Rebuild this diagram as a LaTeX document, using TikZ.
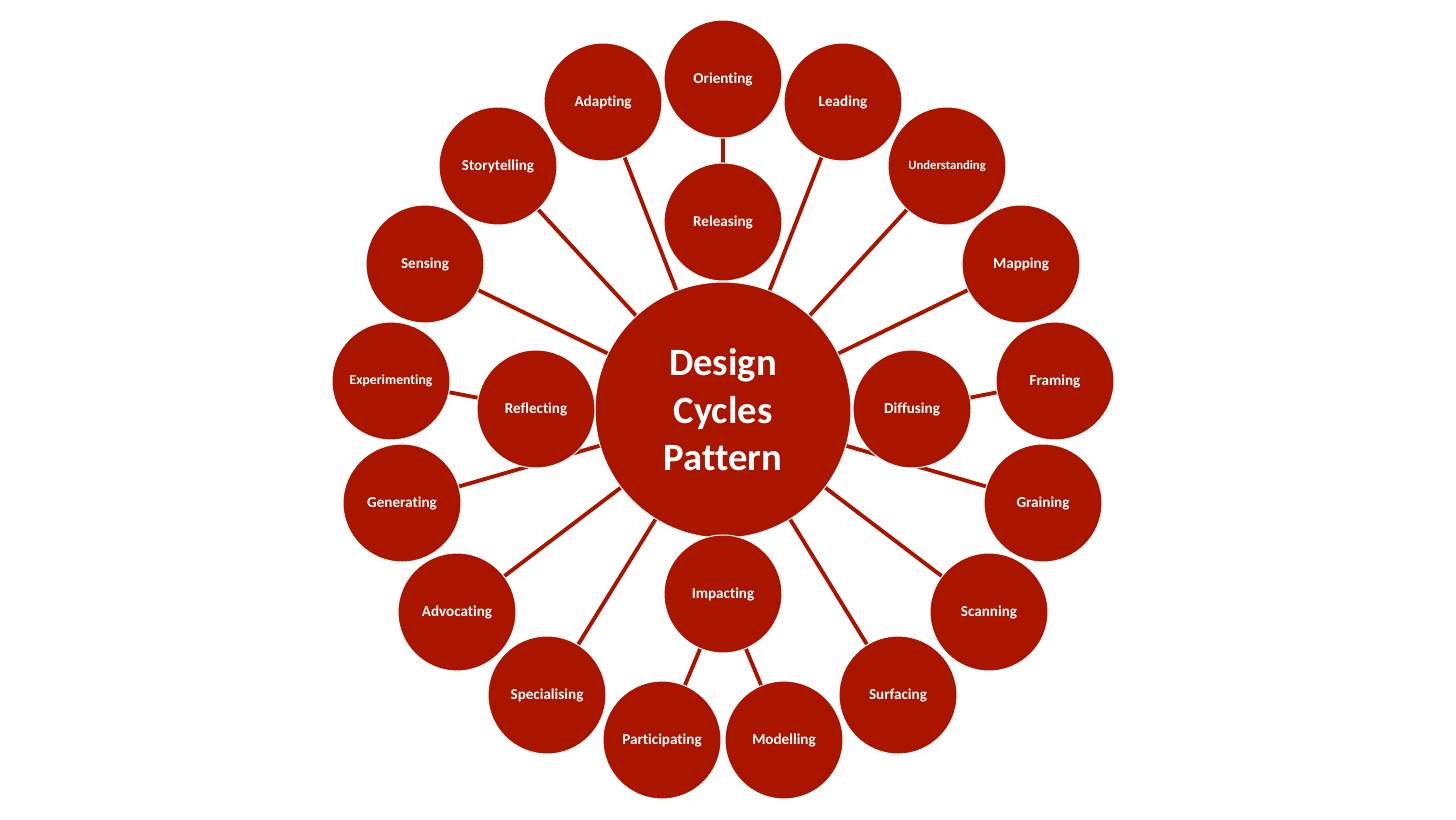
\documentclass[tikz,border=0pt]{standalone}
\usepackage{fontspec}
\setmainfont{Carlito}[Ligatures=NoCommon]
\usetikzlibrary{backgrounds}

\definecolor{cyclered}{RGB}{170,21,0}

\tikzset{
  bubble/.style = {circle, fill = cyclered, draw = white, line width = .3pt,
    minimum size = 1.18cm, inner sep = 0pt, text = white,
    font = \fontsize{4.3}{5}\selectfont\bfseries},
  hub/.style = {bubble, minimum size = 2.56cm, align = center,
    font = \fontsize{11}{13.5}\selectfont\bfseries},
  link/.style = {draw = cyclered, line width = 1.1pt}
}

\begin{document}
\begin{tikzpicture}
\useasboundingbox (0,0) rectangle (14.56,8.19);

\node[hub] (hub) at (7.23,4.09) {Design\\Cycles\\Pattern};

\node[bubble] (orienting) at (7.23,7.40) {Orienting};
\node[bubble] (releasing) at (7.23,5.97) {Releasing};
\node[bubble] (adapting) at (6.03,7.17) {Adapting};
\node[bubble] (leading) at (8.43,7.17) {Leading};
\node[bubble] (storytelling) at (4.98,6.53) {Storytelling};
\node[bubble, font = \fontsize{3.6}{4}\selectfont\bfseries] (understanding) at (9.47,6.53) {Understanding};
\node[bubble] (sensing) at (4.25,5.55) {Sensing};
\node[bubble] (mapping) at (10.21,5.55) {Mapping};
\node[bubble, font = \fontsize{3.9}{4.5}\selectfont\bfseries] (experimenting) at (3.91,4.38) {Experimenting};
\node[bubble] (framing) at (10.55,4.38) {Framing};
\node[bubble] (reflecting) at (5.36,4.10) {Reflecting};
\node[bubble] (diffusing) at (9.12,4.10) {Diffusing};
\node[bubble] (generating) at (4.02,3.16) {Generating};
\node[bubble] (graining) at (10.43,3.16) {Graining};
\node[bubble] (advocating) at (4.57,2.07) {Advocating};
\node[bubble] (scanning) at (9.89,2.07) {Scanning};
\node[bubble] (specialising) at (5.47,1.24) {Specialising};
\node[bubble] (surfacing) at (8.98,1.24) {Surfacing};
\node[bubble] (impacting) at (7.23,2.25) {Impacting};
\node[bubble] (participating) at (6.62,0.79) {Participating};
\node[bubble] (modelling) at (7.84,0.79) {Modelling};

% spokes, behind the bubbles
\begin{scope}[on background layer]
\foreach \n in {adapting, leading, storytelling, understanding, sensing, mapping,
  generating, graining, advocating, scanning, specialising, surfacing}
  \draw[link] (hub.center) -- (\n.center);
\draw[link] (orienting.center) -- (releasing.center);
\draw[link] (experimenting.center) -- (reflecting.center);
\draw[link] (framing.center) -- (diffusing.center);
\draw[link] (impacting.center) -- (participating.center);
\draw[link] (impacting.center) -- (modelling.center);
\end{scope}
\end{tikzpicture}
\end{document}
